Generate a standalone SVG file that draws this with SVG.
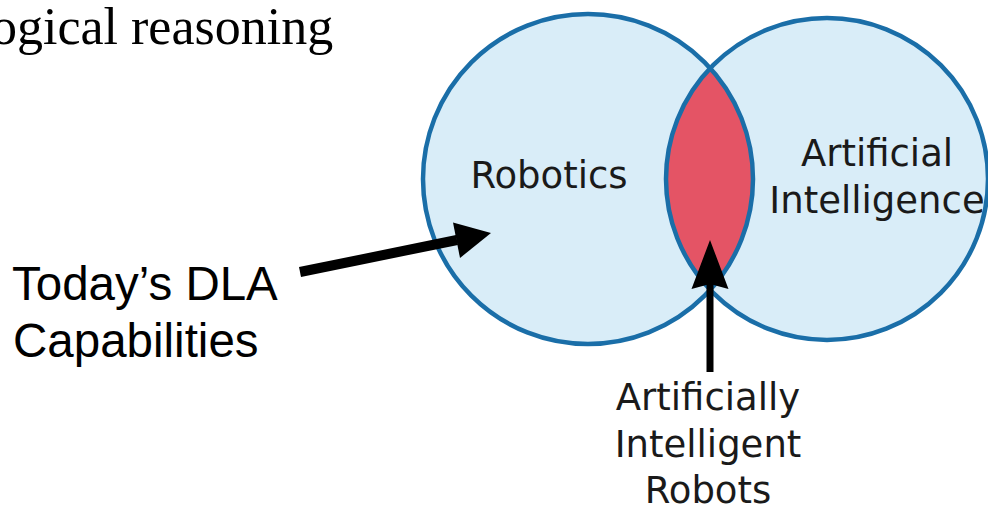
<svg xmlns="http://www.w3.org/2000/svg" width="988" height="509" viewBox="0 0 988 509">
<style>
.fill{fill:#d9edf8;stroke:none}
.ring{fill:none;stroke:#1a6ea8;stroke-width:4.5}
.lens{fill:#e45465;stroke:none}
.lbl{font-family:"DejaVu Sans",sans-serif;font-size:37px;fill:#1a1a1a;text-anchor:middle}
.sans{font-family:"Liberation Sans",Arial,sans-serif;font-size:47.5px;fill:#000}
.serif{font-family:"Liberation Serif","Times New Roman",serif;font-size:52px;fill:#000}
.shaft{stroke:#000;fill:none;stroke-linecap:butt}
.head{fill:#000;stroke:none}
</style>
<rect width="988" height="509" fill="#fff"/>
<text class="serif" x="-9" y="44">ogical reasoning</text>
<g id="robotics">
<circle class="fill" cx="588" cy="179" r="165"/>
</g>
<g id="ai">
<circle class="fill" cx="827" cy="179" r="161"/>
</g>
<g id="intersection">
<path class="lens" d="M710.2,68.2 A165,165 0 0 1 710.2,289.8 A161,161 0 0 1 710.2,68.2 Z"/>
</g>
<g id="outlines">
<circle class="ring" cx="588" cy="179" r="165"/>
<circle class="ring" cx="827" cy="179" r="161"/>
</g>
<g id="labels">
<text class="lbl" x="549" y="188">Robotics</text>
<text class="lbl" x="877" y="166">Artificial</text>
<text class="lbl" x="877" y="213">Intelligence</text>
</g>
<g id="dla">
<text class="sans" x="12" y="300">Today’s DLA</text>
<text class="sans" x="13" y="357">Capabilities</text>
</g>
<g id="air">
<text class="lbl" x="708" y="410">Artificially</text>
<text class="lbl" x="708" y="457">Intelligent</text>
<text class="lbl" x="708" y="503">Robots</text>
</g>
<g id="connectors">
<line class="shaft" x1="300" y1="272" x2="457" y2="240" stroke-width="10"/>
<polygon class="head" points="491,233 453,222.5 460,258"/>
<line class="shaft" x1="710" y1="372" x2="710" y2="284" stroke-width="7"/>
<polygon class="head" points="710,240 691.5,289 710,284 728.5,289"/>
</g>
</svg>
